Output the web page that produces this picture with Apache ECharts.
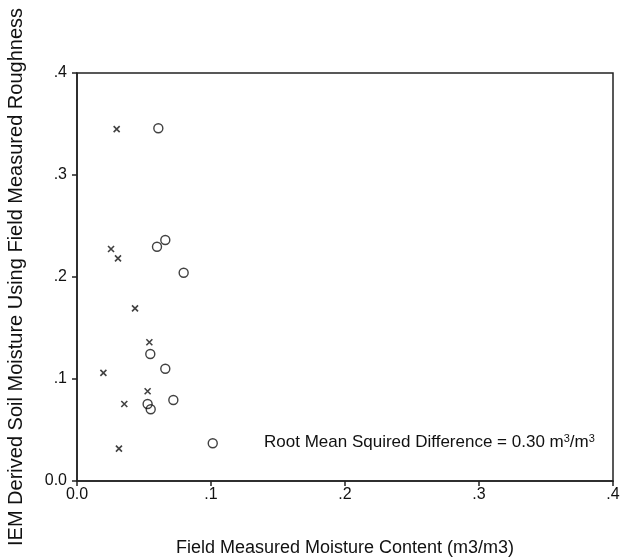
<!DOCTYPE html>
<html><head><meta charset="utf-8">
<script src="https://cdn.jsdelivr.net/npm/echarts@6/dist/echarts.min.js"></script>
<style>html,body{margin:0;padding:0;background:#fff}#c{width:622px;height:558px}</style>
</head><body><div id="c"></div>
<script>
const xTicks = [0, 0.1, 0.2, 0.3, 0.4];
const xTickLabels = ['0.0', '.1', '.2', '.3', '.4'];
const yTickLabels = ['0.0', '.1', '.2', '.3', '.4'];
const crossX = [0.0296, 0.0254, 0.0306, 0.0433, 0.054, 0.0197, 0.0527, 0.0353, 0.0313];
const crossY = [0.345, 0.2275, 0.2183, 0.1693, 0.136, 0.106, 0.088, 0.0755, 0.0317];
const circX = [0.0607, 0.0597, 0.0659, 0.0796, 0.0547, 0.0659, 0.0527, 0.055, 0.0719, 0.1013];
const circY = [0.3458, 0.2297, 0.2363, 0.2042, 0.1245, 0.110, 0.0755, 0.0703, 0.0794, 0.037];

function lbl(arr){ return v => { const i = xTicks.findIndex(t => Math.abs(t - v) < 1e-6); return i >= 0 ? arr[i] : ''; }; }
const font = 'Liberation Sans, Arial, Helvetica, sans-serif';
const chart = echarts.init(document.getElementById('c'), null, {renderer:'canvas'});
chart.setOption({
  animation: false,
  backgroundColor: '#fff',
  grid: {left: 77, right: 9, top: 73, bottom: 77, containLabel: false, outerBoundsMode: 'none',
         show: true, borderColor: '#222', borderWidth: 1.5, backgroundColor: 'transparent'},
  xAxis: {
    type: 'value', min: 0, max: 0.4, interval: 0.1,
    name: 'Field Measured Moisture Content (m3/m3)', nameLocation: 'middle', nameGap: 58,
    nameTextStyle: {fontFamily: font, fontSize: 18, color: '#111'},
    axisLine: {lineStyle: {color: '#222', width: 1.5}},
    axisTick: {show: true, inside: false, length: 5, lineStyle: {color: '#222', width: 1.5}},
    axisLabel: {formatter: lbl(xTickLabels), fontFamily: font, fontSize: 16, color: '#111', margin: 6},
    splitLine: {show: false}
  },
  yAxis: {
    type: 'value', min: 0, max: 0.4, interval: 0.1,
    name: 'IEM Derived Soil Moisture Using Field Measured Roughness', nameLocation: 'middle', nameGap: 51,
    nameTextStyle: {fontFamily: font, fontSize: 20, color: '#111'},
    axisLine: {lineStyle: {color: '#222', width: 1.5}},
    axisTick: {show: true, inside: false, length: 5, lineStyle: {color: '#222', width: 1.5}},
    axisLabel: {formatter: lbl(yTickLabels), fontFamily: font, fontSize: 16, color: '#111', margin: 10},
    splitLine: {show: false}
  },
  series: [
    {
      type: 'scatter', name: 'cross',
      data: crossX.map((x, i) => [x, crossY[i]]),
      symbol: 'path://M0,0L10,10M10,0L0,10', symbolSize: 6,
      itemStyle: {color: 'rgba(0,0,0,0)', borderColor: '#111', borderWidth: 1.6}
    },
    {
      type: 'scatter', name: 'circle',
      data: circX.map((x, i) => [x, circY[i]]),
      symbol: 'circle', symbolSize: 9,
      itemStyle: {color: 'rgba(0,0,0,0)', borderColor: '#111', borderWidth: 1.4}
    }
  ],
  graphic: [{
    type: 'text', left: 264, top: 433,
    style: {
      text: 'Root Mean Squired Difference = 0.30 m{s|3}/m{s|3}',
      font: '17px ' + font, fill: '#111',
      rich: {s: {fontSize: 11, verticalAlign: 'top', padding: [0,0,7,0], fontFamily: font, fill: '#111'}}
    }
  }]
});
</script></body></html>
